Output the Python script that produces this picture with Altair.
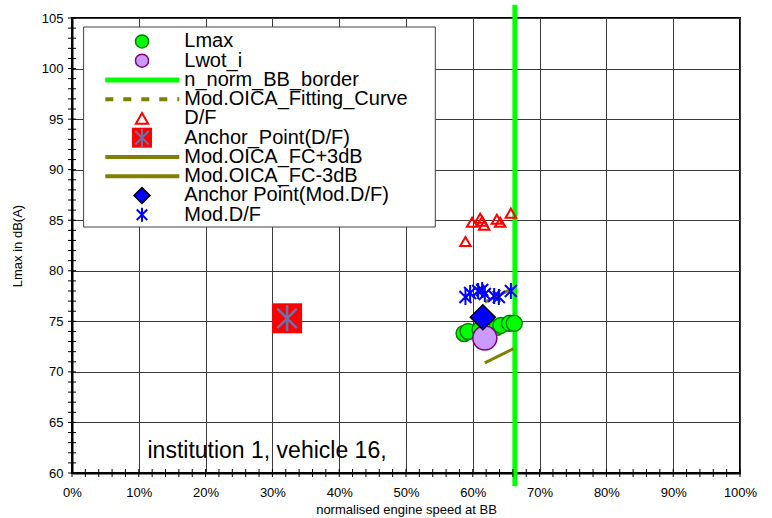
import altair as alt
import pandas as pd

FONT = "Liberation Sans"

# ---------------- data ----------------
lmax_x = [58.7, 59.3, 61.1, 63.6, 64.2, 65.5, 66.2]
lmax_y = [73.8, 74.0, 74.2, 74.4, 74.6, 74.8, 74.8]
lwot_x = [61.8]
lwot_y = [73.35]
border_x = [66.3]
border_y = [58.7]
border_y2 = [106.3]
fc_x = [61.8, 66.1]
fit_y = [73.9, 75.3]
fc_plus_y = [76.9, 78.3]
fc_minus_y = [70.9, 72.3]
df_x = [58.9, 59.9, 61.1, 61.4, 61.7, 63.6, 64.1, 65.7]
df_y = [82.9, 84.8, 85.2, 84.9, 84.5, 85.1, 84.8, 85.7]
anchor_df_x = [32.2]
anchor_df_y = [75.3]
anchor_mod_x = [61.5]
anchor_mod_y = [75.4]
mdf_x = [58.9, 59.6, 60.8, 61.4, 61.8, 63.2, 63.9, 65.7]
mdf_y = [77.4, 77.8, 78.0, 78.1, 77.7, 77.5, 77.4, 78.0]

x_ticks = [0, 10, 20, 30, 40, 50, 60, 70, 80, 90, 100]
y_ticks = [60, 65, 70, 75, 80, 85, 90, 95, 100, 105]
x_minor = list(range(0, 101, 2))
y_minor = list(range(60, 106))

legend_names = ["Lmax", "Lwot_i", "n_norm_BB_border", "Mod.OICA_Fitting_Curve", "D/F",
                "Anchor_Point(D/F)", "Mod.OICA_FC+3dB", "Mod.OICA_FC-3dB",
                "Anchor Point(Mod.D/F)", "Mod.D/F"]
note_text = ["institution 1, vehicle 16,"]
note_x = [11.3]
note_y = [61.5]

# ---------------- scales / axes ----------------
XS = alt.Scale(domain=[0, 100], nice=False, zero=False)
YS = alt.Scale(domain=[60, 105], nice=False, zero=False)

xaxis = alt.Axis(values=x_ticks, labelExpr="datum.value + '%'", grid=True, gridColor="#3a3a3a",
                 gridWidth=1, domainColor="black", domainWidth=2, ticks=False,
                 labelFont=FONT, labelFontSize=13, labelColor="black", labelPadding=13,
                 labelFlush=False, title="normalised engine speed at BB", titleFont=FONT,
                 titleFontSize=13, titleFontWeight="normal", titleColor="black", titlePadding=4)
yaxis = alt.Axis(values=y_ticks, grid=True, gridColor="#3a3a3a", gridWidth=1,
                 domainColor="black", domainWidth=2, ticks=False,
                 labelFont=FONT, labelFontSize=13, labelColor="black", labelPadding=9,
                 labelFlush=False, title="Lmax in dB(A)", titleFont=FONT, titleFontSize=13,
                 titleFontWeight="normal", titleColor="black", titlePadding=17)


def ex(f):
    return alt.X(f, type="quantitative", scale=XS, axis=xaxis)


def ey(f):
    return alt.Y(f, type="quantitative", scale=YS, axis=yaxis)


def xy(xs, ys):
    return pd.DataFrame({"x": xs, "y": ys})


ASTER = "M0,-1L0,1M-0.75,-0.75L0.75,0.75M-0.75,0.75L0.75,-0.75"
OLIVE = "#808000"

border = alt.Chart(pd.DataFrame({"x": border_x, "y": border_y, "y2": border_y2})).mark_rule(
    color="#00ff00", strokeWidth=5, clip=False).encode(x=ex("x"), y=ey("y"), y2=alt.Y2("y2"))

fit = alt.Chart(xy(fc_x, fit_y)).mark_line(color=OLIVE, strokeWidth=3, strokeDash=[8, 10]).encode(
    x=ex("x"), y=ey("y"))
plus = alt.Chart(xy(fc_x, fc_plus_y)).mark_line(color=OLIVE, strokeWidth=3).encode(x=ex("x"), y=ey("y"))
minus = alt.Chart(xy(fc_x, fc_minus_y)).mark_line(color=OLIVE, strokeWidth=3).encode(x=ex("x"), y=ey("y"))

lmax = alt.Chart(xy(lmax_x, lmax_y)).mark_point(
    shape="circle", filled=True, fill="#00ff00", stroke="#008000", strokeWidth=1.5, size=256,
    opacity=1).encode(x=ex("x"), y=ey("y"))
lwot = alt.Chart(xy(lwot_x, lwot_y)).mark_point(
    shape="circle", filled=True, fill="#cc99ff", stroke="#800080", strokeWidth=1.5, size=576,
    opacity=1).encode(x=ex("x"), y=ey("y"))
anchor_mod = alt.Chart(xy(anchor_mod_x, anchor_mod_y)).mark_point(
    shape="diamond", filled=True, fill="#0000ff", stroke="black", strokeWidth=1.5, size=625,
    opacity=1).encode(x=ex("x"), y=ey("y"))
dfp = alt.Chart(xy(df_x, df_y)).mark_point(
    shape="triangle-up", filled=False, stroke="#ff0000", strokeWidth=2, size=110,
    opacity=1).encode(x=ex("x"), y=ey("y"))
mdf = alt.Chart(xy(mdf_x, mdf_y)).mark_point(
    shape=ASTER, filled=False, stroke="#0000ff", strokeWidth=2, size=256,
    opacity=1).encode(x=ex("x"), y=ey("y"))
anchor_sq = alt.Chart(xy(anchor_df_x, anchor_df_y)).mark_point(
    shape="square", filled=True, fill="#ff0000", stroke="#ff0000", strokeWidth=0, size=900,
    opacity=1).encode(x=ex("x"), y=ey("y"))
anchor_st = alt.Chart(xy(anchor_df_x, anchor_df_y)).mark_point(
    shape=ASTER, filled=False, stroke="#6a72a8", strokeWidth=2.5, size=676,
    opacity=1).encode(x=ex("x"), y=ey("y"))

note = alt.Chart(pd.DataFrame({"x": note_x, "y": note_y, "t": note_text})).mark_text(
    align="left", baseline="alphabetic", font=FONT, fontSize=23, color="black").encode(
    x=ex("x"), y=ey("y"), text="t:N")

xt = alt.Chart(pd.DataFrame({"x": x_minor, "y": [60] * len(x_minor)})).mark_tick(
    orient="vertical", size=8, thickness=1, color="black", opacity=1).encode(x=ex("x"), y=ey("y"))
yt = alt.Chart(pd.DataFrame({"x": [0] * len(y_minor), "y": y_minor})).mark_tick(
    orient="horizontal", size=8, thickness=1, color="black", opacity=1).encode(x=ex("x"), y=ey("y"))

data_layer = alt.layer(border, minus, plus, fit, lmax, lwot, anchor_mod, dfp, mdf,
                       anchor_sq, anchor_st, note, xt, yt)

# ---------------- manual legend ----------------
LEG = alt.Scale(type="point", domain=legend_names, range=[23.4, 196.7], padding=0)


def ly():
    return alt.Y("name:N", scale=LEG, axis=None)


def one(name):
    return pd.DataFrame({"name": [name]})


SX = 70
box = alt.Chart(pd.DataFrame({"a": [0]})).mark_rect(
    fill="white", stroke="#404040", strokeWidth=1).encode(
    x=alt.value(11.6), x2=alt.value(363.3), y=alt.value(9), y2=alt.value(209))


def lpoint(name, **kw):
    return alt.Chart(one(name)).mark_point(opacity=1, **kw).encode(x=alt.value(SX), y=ly())


def lline(name, **kw):
    return alt.Chart(one(name)).mark_rule(**kw).encode(
        x=alt.value(33.3), x2=alt.value(107.3), y=ly())


leg_items = [
    box,
    lpoint("Lmax", shape="circle", filled=True, fill="#00ff00", stroke="#008000", strokeWidth=1.5, size=169),
    lpoint("Lwot_i", shape="circle", filled=True, fill="#cc99ff", stroke="#800080", strokeWidth=1.5, size=169),
    lline("n_norm_BB_border", color="#00ff00", strokeWidth=5),
    lline("Mod.OICA_Fitting_Curve", color=OLIVE, strokeWidth=4, strokeDash=[8, 10]),
    lpoint("D/F", shape="triangle-up", filled=False, stroke="#ff0000", strokeWidth=2, size=150),
    lpoint("Anchor_Point(D/F)", shape="square", filled=True, fill="#ff0000", stroke="#ff0000", strokeWidth=0, size=400),
    lpoint("Anchor_Point(D/F)", shape=ASTER, filled=False, stroke="#6a72a8", strokeWidth=2, size=324),
    lline("Mod.OICA_FC+3dB", color=OLIVE, strokeWidth=4),
    lline("Mod.OICA_FC-3dB", color=OLIVE, strokeWidth=4),
    lpoint("Anchor Point(Mod.D/F)", shape="diamond", filled=True, fill="#0000ff", stroke="black", strokeWidth=1.5, size=256),
    lpoint("Mod.D/F", shape=ASTER, filled=False, stroke="#0000ff", strokeWidth=2, size=196),
    alt.Chart(pd.DataFrame({"name": legend_names})).mark_text(
        align="left", baseline="middle", font=FONT, fontSize=20, color="black").encode(
        x=alt.value(112.3), y=ly(), text="name:N"),
]
legend_layer = alt.layer(*leg_items)

chart = alt.layer(data_layer, legend_layer).resolve_scale(y="independent").properties(
    width=668, height=455,
    padding={"left": 72, "top": 18, "right": 32, "bottom": 45},
    autosize=alt.AutoSizeParams(type="none"),
    background="white",
).configure_view(stroke="black", strokeWidth=2)

chart.save("out.html", embed_options={"renderer": "svg", "actions": False})
